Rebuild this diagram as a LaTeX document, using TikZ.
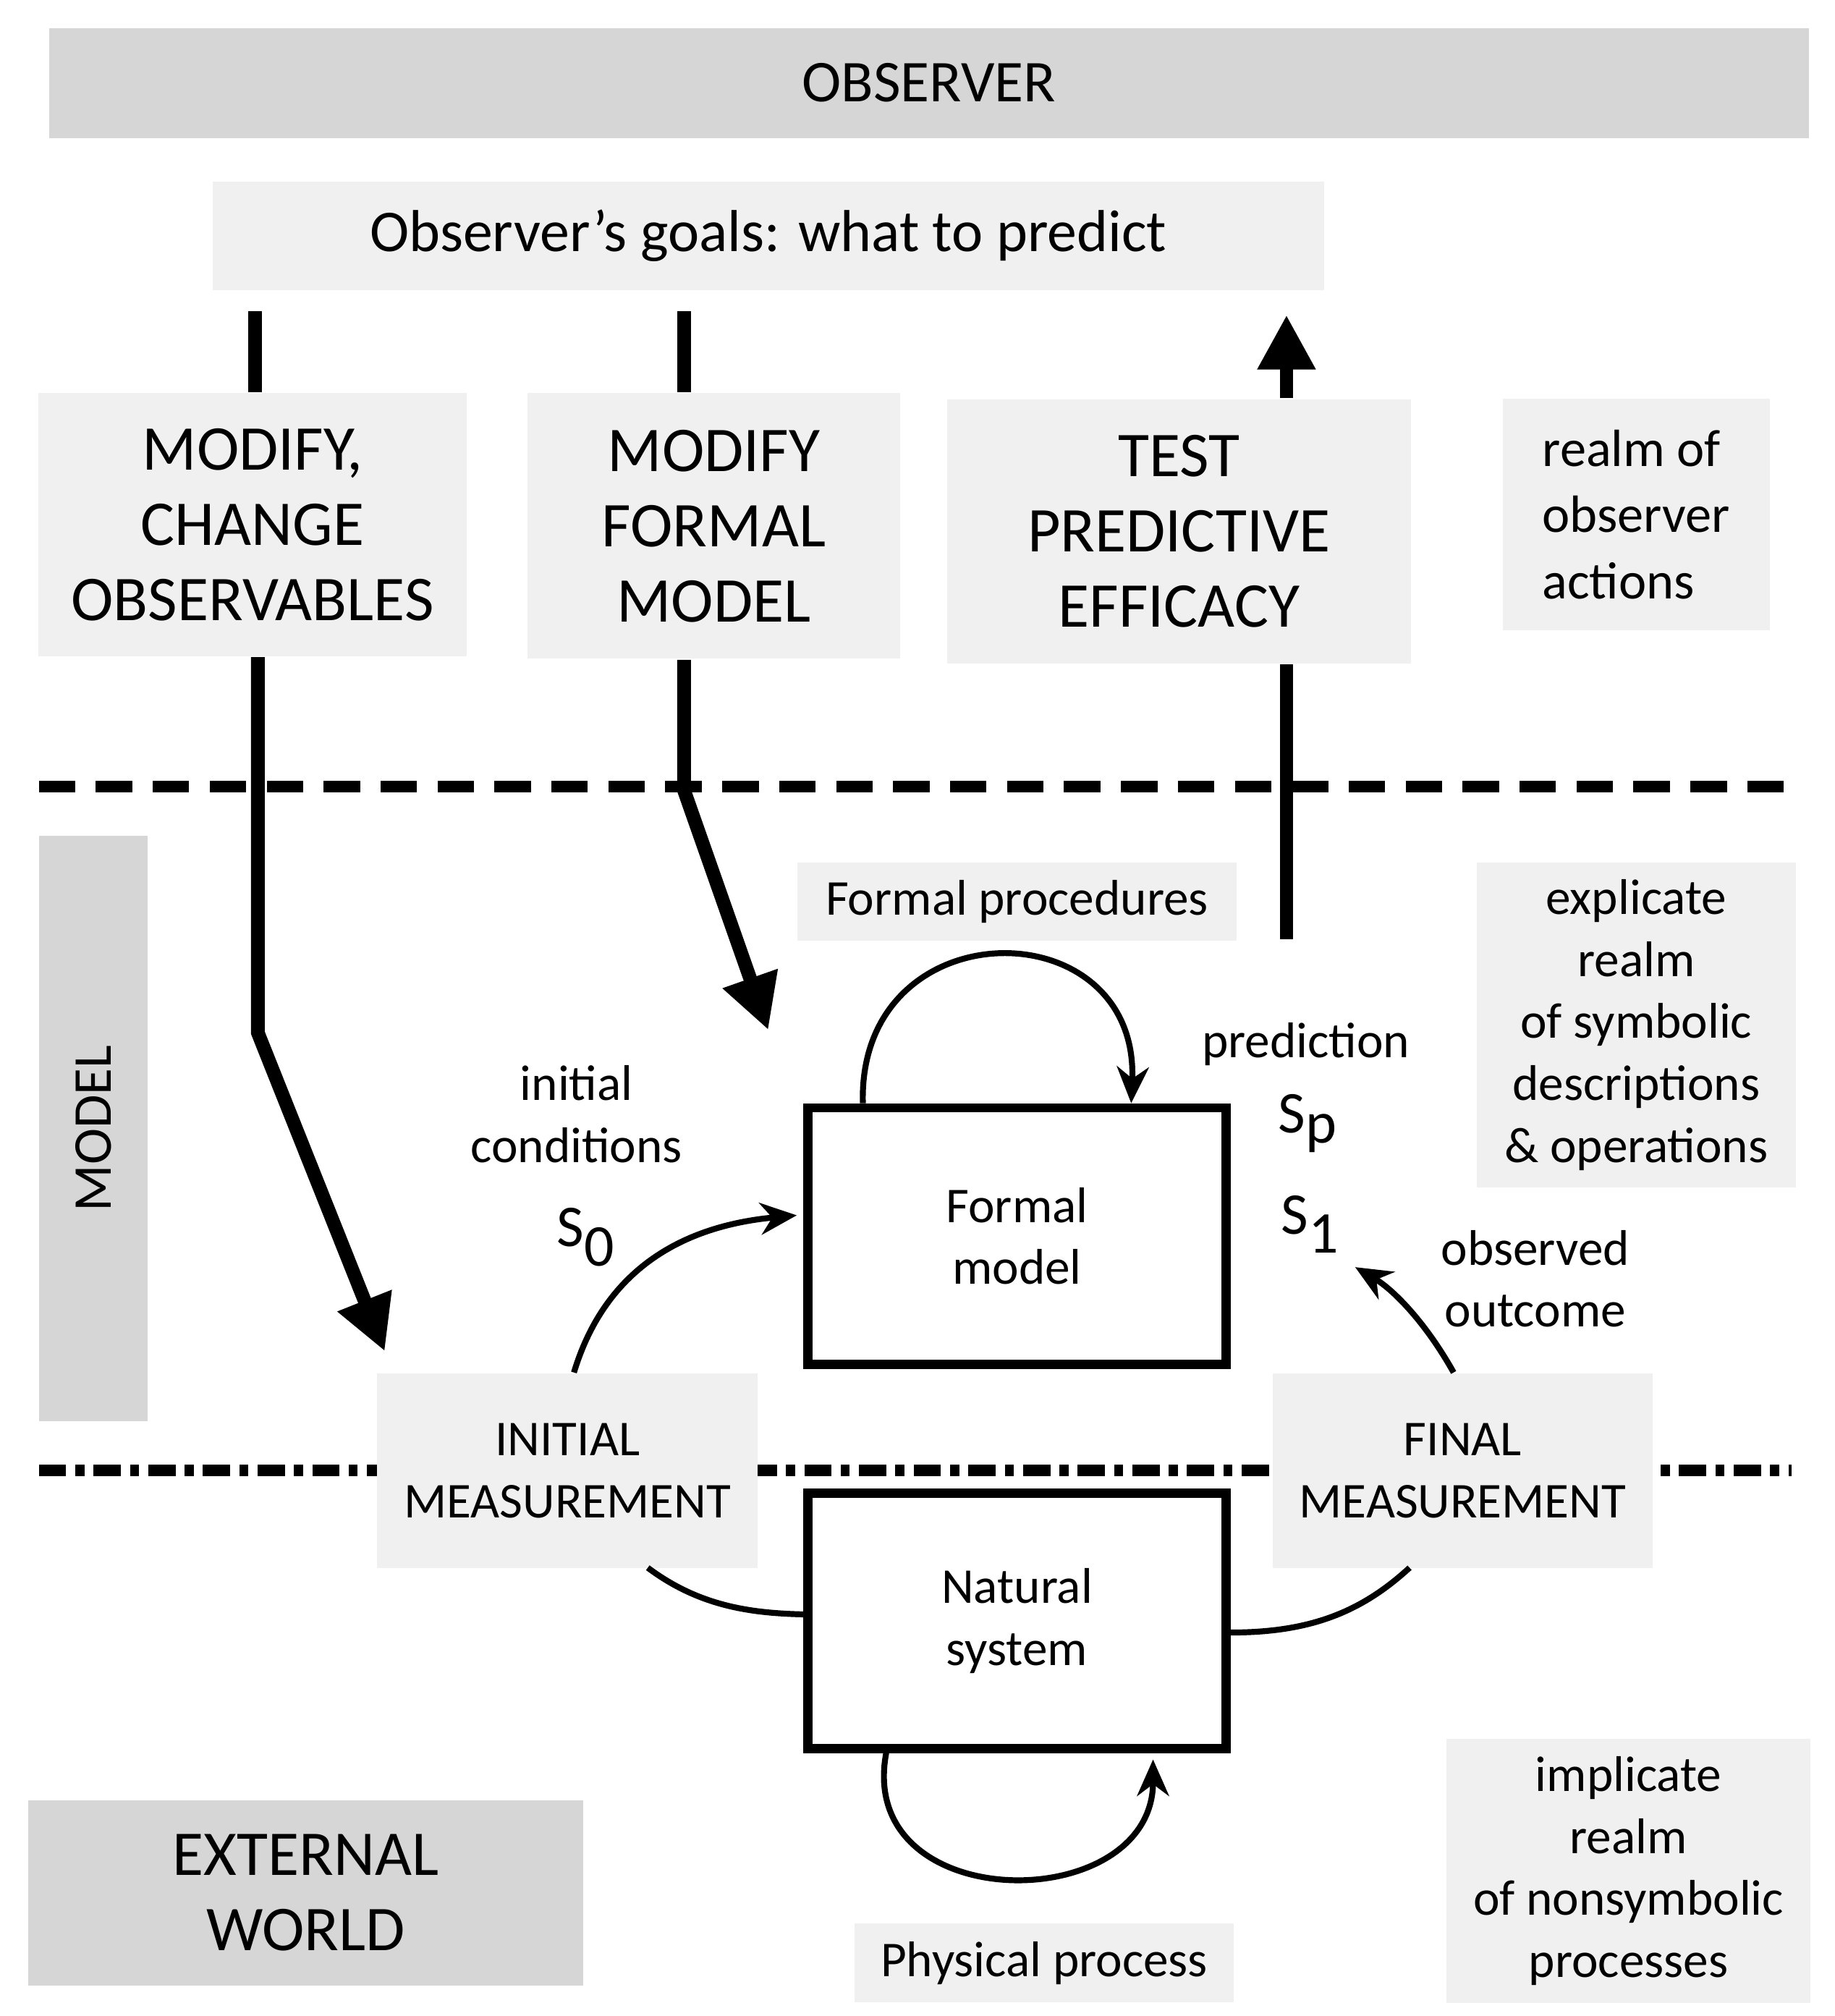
\documentclass[tikz,border=0pt]{standalone}
\usepackage{fontspec}
\setmainfont{Carlito}
\usetikzlibrary{positioning,arrows.meta}
\begin{document}
\begin{tikzpicture}[x=0.01cm,y=-0.01cm]
\tikzstyle{dark}=[rectangle, fill=black!16, inner sep=0pt, align=center]
\tikzstyle{light}=[rectangle, fill=black!6, inner sep=0pt, align=center]
\tikzstyle{frame}=[rectangle, draw=black, line width=2pt, fill=white, inner sep=0pt, align=center]
\tikzstyle{big}=[font=\fontsize{14}{16.5}\selectfont]
\tikzstyle{mid}=[font=\fontsize{11}{13.6}\selectfont, align=center]
\tikzstyle{thickarr}=[line width=3pt, -{Triangle[length=12pt,width=12pt]}]
\tikzstyle{thin}=[line width=1.3pt, -{Stealth[length=8pt,width=7pt]}]
\tikzset{size/.style 2 args={minimum width=#1*0.01cm, minimum height=#2*0.01cm}}
\useasboundingbox (0,0) rectangle (1416,1556);

\node[dark, size={1358}{85}, font=\fontsize{13}{15}\selectfont] at (717,64) (observer) {OBSERVER};
\node[light, size={858}{84}, font=\fontsize{13}{15}\selectfont] at (593,182) (goals) {Observer’s goals: what to predict};
\node[light, big, size={331}{203}] at (195,405) (chobs) {MODIFY,\\CHANGE\\OBSERVABLES};
\node[light, big, size={288}{205}] at (551,406) (modfm) {MODIFY\\FORMAL\\MODEL};
\node[light, big, size={358}{204}] at (910,410) (test) {TEST\\PREDICTIVE\\EFFICACY};
\node[light, size={206}{179}, align=left, font=\fontsize{11.5}{14.5}\selectfont] at (1263,397) (obsreal) {realm of\\observer\\actions};

\draw[line width=2.5pt, dash pattern=on 8pt off 4.5pt] (30,607) coordinate (dl) -- (1390,607) coordinate (dr);
\node[dark, size={84}{452}] at (72,871) (model) {};
\node[rotate=90, font=\fontsize{12}{14}\selectfont] at (model) (modeltxt) {MODEL};

\node[light, mid, size={339}{60}] at (785,696) (fproc) {Formal procedures};
\node[light, mid, size={246}{251}] at (1263,791) (explic) {explicate\\realm\\of symbolic\\descriptions\\\& operations};
\node[frame, mid, size={323}{198}] at (785,954) (fmodel) {Formal\\model};

\draw[line width=2.5pt, dash pattern=on 6pt off 2pt on 2pt off 2pt] (30,1135) coordinate (ml) -- (1383,1135) coordinate (mr);

\node[light, mid, size={294}{150}] at (438,1135) (initm) {INITIAL\\MEASUREMENT};
\node[light, mid, size={293}{150}] at (1129,1135) (finm) {FINAL\\MEASUREMENT};
\node[frame, mid, size={323}{197}] at (785,1251) (natsys) {Natural\\system};

\node[dark, big, size={428}{143}] at (236,1461) (extw) {EXTERNAL\\WORLD};
\node[light, mid, size={281}{204}] at (1257,1444) (implic) {implicate\\realm\\of nonsymbolic\\processes};
\node[light, mid, size={293}{61}] at (806,1515) (pproc) {Physical process};

\node[mid] at (445,860) (initc) {initial\\conditions};
\node[font=\fontsize{13}{15}\selectfont] at (453,955) (s0) {S$_{\textrm{0}}$};
\node[mid] at (1008,806) (pred) {prediction};
\node[font=\fontsize{13}{15}\selectfont] at (1010,867) (sp) {S$_{\textrm{p}}$};
\node[font=\fontsize{13}{15}\selectfont] at (1012,945) (s1) {S$_{\textrm{1}}$};
\node[mid] at (1185,987) (obsout) {observed\\outcome};

% thick arrows
\draw[line width=3pt] (197,240) coordinate (a0) -- (chobs.north-|a0);
\draw[line width=3pt] (528,240) coordinate (b0) -- (modfm.north-|b0);
\coordinate (a1) at (199,797);
\coordinate (a2) at (297,1043);
\draw[thickarr] (chobs.south-|a1) -- (a1) -- (a2);
\coordinate (b1) at (528,610);
\coordinate (b2) at (593,795);
\draw[thickarr] (modfm.south-|b1) -- (b1) -- (b2);
\coordinate (c0) at (993,725);
\coordinate (c1) at (993,243);
\draw[line width=3pt] (c0) -- (test.south-|c0);
\draw[thickarr] (test.north-|c1) -- (c1);

% thin curves
\draw[thin] ([xshift=0.46cm]fmodel.north west) .. controls (662,700) and (880,700) .. ([xshift=2.53cm]fmodel.north west);
\draw[thin] ([xshift=0.05cm]initm.north) .. controls (470,970) and (540,945) .. (615,938);
\draw[thin] ([xshift=-0.07cm]finm.north) .. controls (1100,1020) and (1075,995) .. (1046,978);
\draw[line width=1.3pt] (500,1210) .. controls (540,1240) and (580,1245) .. (natsys.west|-0,1246);
\draw[line width=1.3pt] (natsys.east|-0,1260) .. controls (1010,1260) and (1050,1245) .. (1088,1210);
\draw[thin] ([xshift=0.64cm]natsys.south west) .. controls (660,1480) and (890,1480) .. (890,1358);
\end{tikzpicture}
\end{document}
